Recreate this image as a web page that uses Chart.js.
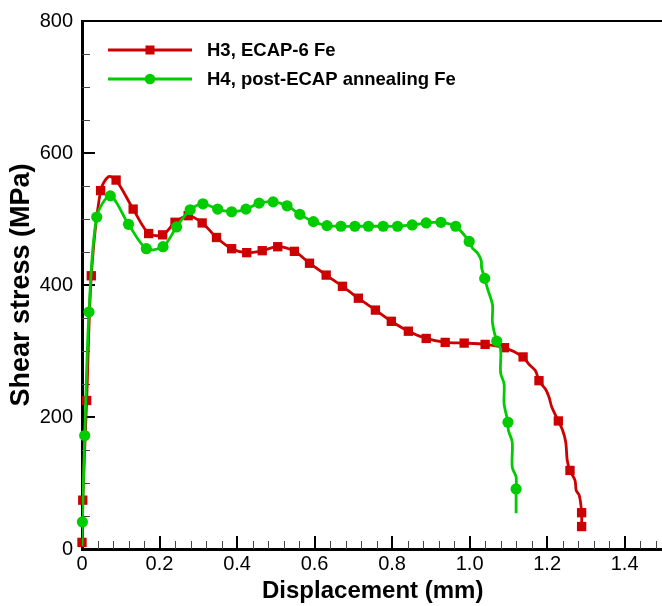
<!DOCTYPE html>
<html>
<head>
<meta charset="utf-8">
<script src="https://cdn.jsdelivr.net/npm/chart.js@4.4.1/dist/chart.umd.min.js"></script>
<style>
  html, body { margin: 0; padding: 0; overflow: hidden; background: #fff; }
  canvas { display: block; }
</style>
</head>
<body>
<canvas id="shearChart" width="670" height="606"></canvas>
<script>
// H3, ECAP-6 Fe: marked samples (mm, MPa)
const h3MarkX = [0, 0.002, 0.012, 0.024, 0.048, 0.088, 0.132, 0.172, 0.208, 0.240, 0.274, 0.310,
  0.347, 0.386, 0.425, 0.465, 0.505, 0.548, 0.587, 0.630, 0.672, 0.713, 0.757, 0.798, 0.842,
  0.888, 0.937, 0.986, 1.040, 1.090, 1.138, 1.179, 1.229, 1.259, 1.289, 1.289];
const h3MarkY = [10, 74, 225, 414, 543, 559, 515, 478, 476, 495, 505, 494,
  472, 455, 449, 452, 458, 451, 433, 415, 398, 380, 362, 345, 330,
  319, 313, 312, 310, 305, 291, 255, 194, 119, 55, 34];
// H3 unmarked readings between the samples
const h3ExtraX = [0.068, 1.153, 1.170, 1.196, 1.205, 1.212, 1.240, 1.248, 1.252, 1.272, 1.275, 1.283];
const h3ExtraY = [564, 280, 270, 242, 230, 215, 180, 162, 134, 104, 89, 81];

// H4, post-ECAP annealing Fe: marked samples (mm, MPa)
const h4MarkX = [0.001, 0.007, 0.018, 0.038, 0.073, 0.120, 0.166, 0.209, 0.244, 0.279, 0.312,
  0.350, 0.386, 0.423, 0.457, 0.493, 0.529, 0.562, 0.597, 0.632, 0.668, 0.704, 0.739, 0.777,
  0.814, 0.852, 0.888, 0.926, 0.964, 0.999, 1.039, 1.070, 1.099, 1.120];
const h4MarkY = [41, 172, 359, 503, 535, 492, 455, 458, 488, 514, 523,
  515, 511, 515, 524, 526, 520, 507, 496, 490, 489, 489, 489, 489,
  489, 491, 494, 495, 489, 466, 410, 315, 192, 91];
// H4 unmarked readings between the samples
const h4ExtraX = [0, 1.007, 1.021, 1.030, 1.031, 1.047, 1.059, 1.059, 1.080, 1.080, 1.089, 1.089,
  1.100, 1.110, 1.110, 1.120, 1.120];
const h4ExtraY = [4, 456, 448, 437, 426, 393, 370, 343, 303, 267, 250, 220,
  180, 162, 124, 109, 54];

// axis tick labels
const xTicks = [0, 0.2, 0.4, 0.6, 0.8, 1, 1.2, 1.4];
const yTicks = [0, 200, 400, 600, 800];

const FONT = '"Liberation Sans", Arial, Helvetica, sans-serif';

const series = [
  { label: 'H3, ECAP-6 Fe', color: '#cc0000', style: 'rect', radius: 6.6,
    markX: h3MarkX, markY: h3MarkY, extraX: h3ExtraX, extraY: h3ExtraY },
  { label: 'H4, post-ECAP annealing Fe', color: '#00cc00', style: 'circle', radius: 5.6,
    markX: h4MarkX, markY: h4MarkY, extraX: h4ExtraX, extraY: h4ExtraY }
];

function toPoints(xs, ys) {
  return xs.map((x, i) => ({ x: x, y: ys[i] }));
}

// full curve = samples + in-between readings, ordered along displacement
function curvePoints(s) {
  return toPoints(s.markX, s.markY)
    .concat(toPoints(s.extraX, s.extraY))
    .sort((a, b) => (a.x - b.x) || (b.y - a.y));
}

const datasets = [];
series.forEach((s, i) => {
  const base = (series.length - i) * 2;
  datasets.push({
    label: s.label,
    data: curvePoints(s),
    showLine: true,
    borderColor: s.color,
    borderWidth: 2.8,
    pointRadius: 0,
    tension: 0.3,
    order: base
  });
  datasets.push({
    label: s.label + ' (samples)',
    data: toPoints(s.markX, s.markY),
    showLine: false,
    pointStyle: s.style,
    pointRadius: s.radius,
    pointBackgroundColor: s.color,
    pointBorderWidth: 0,
    clip: false,
    order: base - 1
  });
});

// inward tick marks and the open top frame line
const axisFrame = {
  id: 'axisFrame',
  beforeDatasetsDraw(chart) {
    const { ctx, chartArea: a, scales: { x, y } } = chart;
    const crisp = v => Math.round(v) + 0.5;
    ctx.save();

    ctx.strokeStyle = '#000';
    ctx.lineWidth = 2;
    ctx.beginPath();
    ctx.moveTo(a.left, Math.round(a.top));
    ctx.lineTo(chart.width, Math.round(a.top));
    ctx.stroke();

    // minor ticks
    ctx.strokeStyle = '#444';
    ctx.lineWidth = 1;
    ctx.beginPath();
    for (let i = 1; i * 0.04 < x.max; i++) {
      if (i % 5 === 0) continue;
      const px = crisp(x.getPixelForValue(i * 0.04));
      ctx.moveTo(px, a.bottom);
      ctx.lineTo(px, a.bottom - 8);
    }
    for (let i = 1; i * 50 < y.max; i++) {
      if (i % 4 === 0) continue;
      const py = crisp(y.getPixelForValue(i * 50));
      ctx.moveTo(a.left, py);
      ctx.lineTo(a.left + 8, py);
    }
    ctx.stroke();

    // major ticks
    ctx.strokeStyle = '#000';
    ctx.lineWidth = 2;
    ctx.beginPath();
    xTicks.slice(1).forEach(v => {
      const px = Math.round(x.getPixelForValue(v));
      ctx.moveTo(px, a.bottom);
      ctx.lineTo(px, a.bottom - 13);
    });
    yTicks.slice(1, -1).forEach(v => {
      const py = Math.round(y.getPixelForValue(v));
      ctx.moveTo(a.left, py);
      ctx.lineTo(a.left + 13, py);
    });
    ctx.stroke();
    ctx.restore();
  }
};

// legend: line with a marker in the middle, then the label
const seriesKey = {
  id: 'seriesKey',
  afterDraw(chart) {
    const { ctx } = chart;
    ctx.save();
    series.forEach((s, i) => {
      const yy = 50 + i * 29;
      ctx.strokeStyle = s.color;
      ctx.lineWidth = 2.8;
      ctx.beginPath();
      ctx.moveTo(108, yy);
      ctx.lineTo(192, yy);
      ctx.stroke();
      ctx.fillStyle = s.color;
      if (s.style === 'rect') {
        ctx.fillRect(150 - 4.5, yy - 4.5, 9, 9);
      } else {
        ctx.beginPath();
        ctx.arc(150, yy, 5.3, 0, Math.PI * 2);
        ctx.fill();
      }
      ctx.fillStyle = '#000';
      ctx.font = 'bold 18.5px ' + FONT;
      ctx.textAlign = 'left';
      ctx.textBaseline = 'middle';
      ctx.fillText(s.label, 207, yy + 1);
    });
    ctx.restore();
  }
};

new Chart(document.getElementById('shearChart'), {
  type: 'scatter',
  data: { datasets: datasets },
  plugins: [axisFrame, seriesKey],
  options: {
    responsive: false,
    animation: false,
    events: [],
    layout: { padding: { top: 19, right: 5, bottom: 0, left: 0 } },
    plugins: {
      legend: { display: false },
      tooltip: { enabled: false }
    },
    scales: {
      x: {
        type: 'linear',
        min: 0,
        max: 1.5,
        afterBuildTicks: scale => { scale.ticks = xTicks.map(v => ({ value: v })); },
        afterFit: scale => { scale.height = 57; },
        grid: { display: false, drawTicks: false },
        border: { display: true, color: '#000', width: 3 },
        ticks: { color: '#000', padding: 3, font: { family: FONT, size: 20 } },
        title: {
          display: true,
          text: 'Displacement (mm)',
          color: '#000',
          padding: { top: 0, bottom: 0 },
          font: { family: FONT, size: 24, weight: 'bold' }
        }
      },
      y: {
        type: 'linear',
        min: 0,
        max: 800,
        afterBuildTicks: scale => { scale.ticks = yTicks.map(v => ({ value: v })); },
        afterFit: scale => { scale.width = 82; },
        grid: { display: false, drawTicks: false },
        border: { display: true, color: '#000', width: 3 },
        ticks: { color: '#000', padding: 9, font: { family: FONT, size: 20 } },
        title: {
          display: true,
          text: 'Shear stress (MPa)',
          color: '#000',
          padding: { top: 5, bottom: 0 },
          font: { family: FONT, size: 27, weight: 'bold' }
        }
      }
    }
  }
});
</script>
</body>
</html>
